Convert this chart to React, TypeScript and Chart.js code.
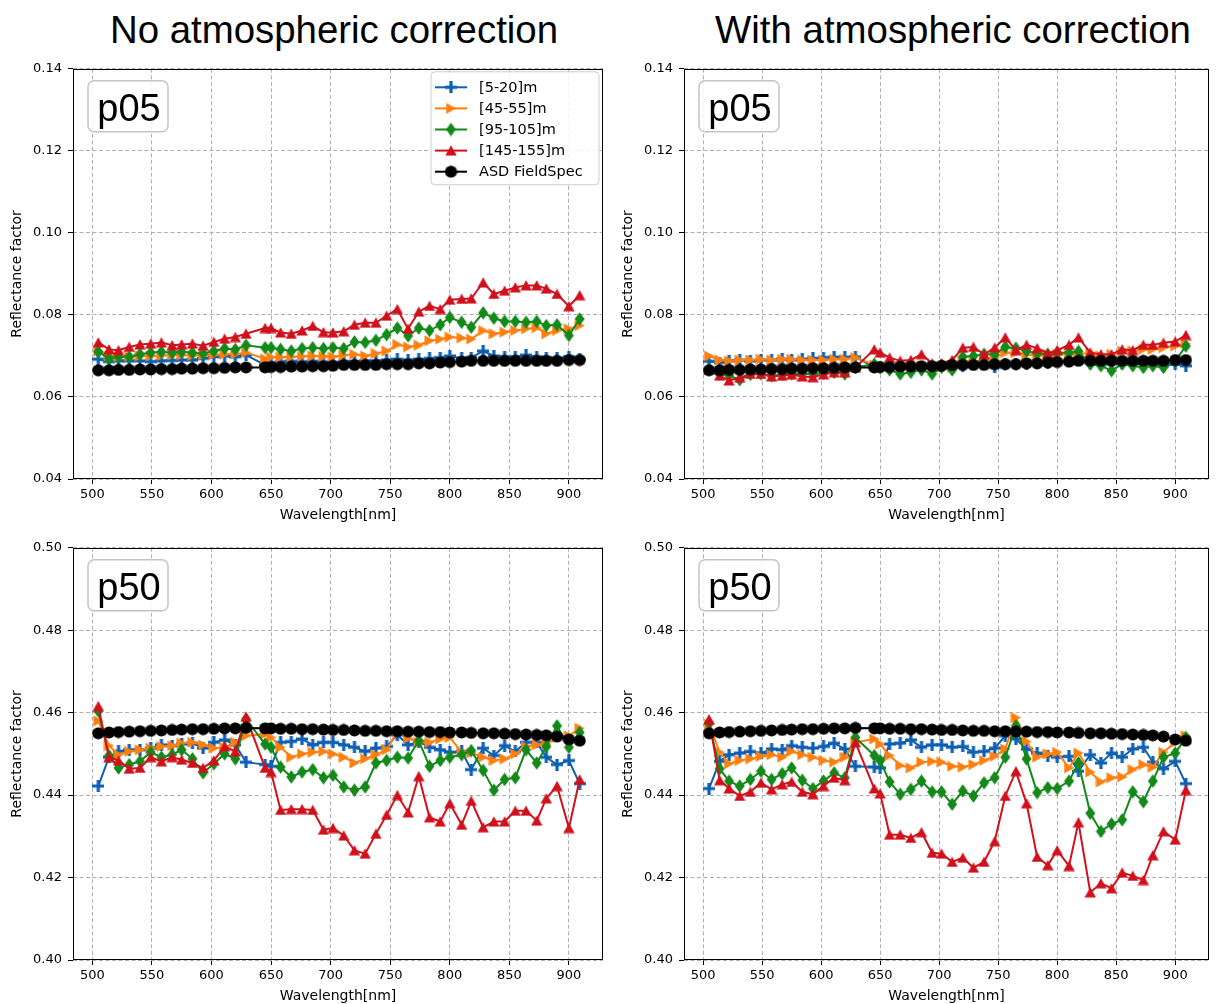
import React, { useEffect, useRef } from "react";
import { Chart, registerables } from "chart.js";

Chart.register(...registerables);

// ---------------- data ----------------
const WAVELENGTHS = [
  505, 514, 522, 531, 540, 549, 558, 567, 575, 584, 593, 602, 611, 620, 629,
  645, 650, 658, 667, 676, 685, 694,
  702, 711, 720, 729, 738, 747, 756, 765, 774, 783, 792, 800, 810, 818, 828, 837, 846, 855, 864, 873, 881, 890, 900, 909,
];

const SERIES_LABELS = ["[5-20]m", "[45-55]m", "[95-105]m", "[145-155]m", "ASD FieldSpec"];
const SERIES_COLORS = ["#0c5fb3", "#ff7f0e", "#13891a", "#d0111c", "#000000"];
const SERIES_MARKERS = ["plus", "triRight", "thinDiamond", "triUp", "circle"];

const X_TICKS = [500, 550, 600, 650, 700, 750, 800, 850, 900];
const P05_Y_TICKS = [0.04, 0.06, 0.08, 0.1, 0.12, 0.14];
const P50_Y_TICKS = [0.4, 0.42, 0.44, 0.46, 0.48, 0.5];

const COLUMN_TITLES = ["No atmospheric correction", "With atmospheric correction"];

// p05 – ASD reference (same in both columns)
const P05_ASD = [
  0.0665, 0.0665, 0.0666, 0.0666, 0.0667, 0.0667, 0.0668, 0.0668, 0.0669, 0.0669, 0.067, 0.067, 0.0671, 0.0672, 0.0672,
  0.0672, 0.0673, 0.0673, 0.0674, 0.0674, 0.0675, 0.0675,
  0.0676, 0.0678, 0.0678, 0.0678, 0.0678, 0.068, 0.068, 0.068, 0.0682, 0.0682, 0.0684, 0.0685, 0.0686, 0.0688, 0.0688, 0.0688, 0.0688, 0.0688, 0.0688, 0.0688, 0.0688, 0.0688, 0.069, 0.069,
];

// p05 – no atmospheric correction
const TL_BLUE = [
  0.0692, 0.0686, 0.0688, 0.0688, 0.0688, 0.0686, 0.0688, 0.0689, 0.069, 0.069, 0.0694, 0.0698, 0.07, 0.0698, 0.0702,
  0.0678, 0.0684, 0.0686, 0.0687, 0.0686, 0.0687, 0.0685,
  0.0684, 0.0686, 0.0686, 0.0688, 0.0688, 0.069, 0.0692, 0.069, 0.0692, 0.0694, 0.0696, 0.07, 0.0694, 0.0696, 0.0712, 0.07, 0.0698, 0.0698, 0.0702, 0.0698, 0.0696, 0.0694, 0.0698, 0.0692,
];
const TL_ORANGE = [
  0.0712, 0.07, 0.0698, 0.0699, 0.07, 0.07, 0.0701, 0.0702, 0.0702, 0.0701, 0.0702, 0.0703, 0.0704, 0.0705, 0.0708,
  0.0693, 0.0697, 0.0697, 0.0698, 0.0699, 0.07, 0.0699,
  0.0698, 0.0702, 0.0704, 0.07, 0.0706, 0.0712, 0.0728, 0.0722, 0.0726, 0.0737, 0.0741, 0.0746, 0.0744, 0.0741, 0.0762, 0.0754, 0.0758, 0.0762, 0.0766, 0.0769, 0.0754, 0.0762, 0.0766, 0.0774,
];
const TL_GREEN = [
  0.071, 0.0694, 0.0698, 0.0698, 0.0704, 0.0708, 0.071, 0.0708, 0.071, 0.0708, 0.0706, 0.0712, 0.0718, 0.0716, 0.0726,
  0.072, 0.072, 0.0716, 0.0712, 0.0718, 0.072, 0.0718,
  0.072, 0.0718, 0.0734, 0.0733, 0.0738, 0.0752, 0.0768, 0.0749, 0.0768, 0.0762, 0.0776, 0.0794, 0.0782, 0.077, 0.0805, 0.0792, 0.0784, 0.0784, 0.0782, 0.0784, 0.0774, 0.0776, 0.075, 0.079,
];
const TL_RED = [
  0.0733, 0.0716, 0.0714, 0.0722, 0.0728, 0.073, 0.0733, 0.0726, 0.0728, 0.073, 0.0725, 0.0734, 0.0742, 0.0746, 0.0754,
  0.0768, 0.0768, 0.0757, 0.0754, 0.0762, 0.0773, 0.0758,
  0.0757, 0.076, 0.0776, 0.0781, 0.0781, 0.0798, 0.0814, 0.0766, 0.0808, 0.0822, 0.0814, 0.0837, 0.0839, 0.084, 0.0879, 0.0851, 0.0859, 0.0867, 0.0872, 0.0872, 0.0864, 0.0851, 0.0821, 0.0848,
];

// p05 – with atmospheric correction
const TR_BLUE = [
  0.0687, 0.0684, 0.0688, 0.069, 0.0688, 0.069, 0.069, 0.0692, 0.069, 0.0692, 0.0694, 0.0696, 0.0697, 0.0697, 0.0698,
  0.0672, 0.0672, 0.0672, 0.0671, 0.0672, 0.0672, 0.0674,
  0.0676, 0.0672, 0.0676, 0.068, 0.0682, 0.0672, 0.068, 0.068, 0.068, 0.0684, 0.0684, 0.0687, 0.0688, 0.069, 0.0684, 0.068, 0.0682, 0.0682, 0.0682, 0.0682, 0.0682, 0.0676, 0.068, 0.0676,
];
const TR_ORANGE = [
  0.07, 0.069, 0.0688, 0.069, 0.069, 0.0692, 0.069, 0.0692, 0.0692, 0.069, 0.069, 0.069, 0.0692, 0.0692, 0.0696,
  0.0678, 0.0676, 0.0674, 0.0674, 0.0676, 0.0676, 0.0676,
  0.0672, 0.0672, 0.0688, 0.0684, 0.0692, 0.0696, 0.0708, 0.0708, 0.0704, 0.07, 0.0704, 0.0704, 0.0704, 0.0704, 0.0708, 0.07, 0.0704, 0.0712, 0.0712, 0.0716, 0.0716, 0.072, 0.0724, 0.073,
];
const TR_GREEN = [
  0.0668, 0.0656, 0.0652, 0.0642, 0.0655, 0.0656, 0.0652, 0.0655, 0.0656, 0.0656, 0.0656, 0.0658, 0.066, 0.0656, 0.0672,
  0.068, 0.0672, 0.0666, 0.0656, 0.066, 0.0666, 0.0656,
  0.0672, 0.0666, 0.0698, 0.07, 0.0704, 0.0704, 0.0722, 0.0719, 0.0712, 0.0706, 0.0704, 0.0708, 0.0708, 0.0711, 0.068, 0.0676, 0.0664, 0.068, 0.0676, 0.0672, 0.0676, 0.0672, 0.0688, 0.0724,
];
const TR_RED = [
  0.0666, 0.0652, 0.064, 0.0647, 0.0656, 0.0656, 0.065, 0.0652, 0.0655, 0.065, 0.0648, 0.0655, 0.066, 0.066, 0.0672,
  0.0716, 0.0708, 0.0696, 0.0688, 0.069, 0.0704, 0.0682,
  0.0682, 0.069, 0.072, 0.0722, 0.0704, 0.072, 0.0745, 0.0714, 0.0727, 0.0719, 0.0706, 0.0714, 0.0727, 0.0745, 0.0708, 0.0704, 0.0704, 0.0716, 0.0714, 0.0727, 0.0727, 0.0732, 0.0735, 0.0751,
];

// p50 – ASD reference (same in both columns)
const P50_ASD = [
  0.455, 0.4552, 0.4553, 0.4554, 0.4555, 0.4556, 0.4557, 0.4558, 0.4559, 0.456, 0.456, 0.4561, 0.4562, 0.4562, 0.4563,
  0.4562, 0.4562, 0.4561, 0.4561, 0.456, 0.456, 0.4559,
  0.4558, 0.4558, 0.4557, 0.4556, 0.4556, 0.4555, 0.4555, 0.4554, 0.4554, 0.4553, 0.4553, 0.4552, 0.4552, 0.4551, 0.455, 0.455, 0.4549, 0.4548, 0.4547, 0.4546, 0.4545, 0.4542, 0.4535, 0.4532,
];

// p50 – no atmospheric correction
const BL_BLUE = [
  0.4422, 0.4492, 0.4506, 0.451, 0.451, 0.4514, 0.4522, 0.452, 0.4524, 0.4526, 0.4514, 0.4528, 0.4534, 0.4522, 0.448,
  0.4474, 0.447, 0.4528, 0.453, 0.4536, 0.4522, 0.4528,
  0.4528, 0.4522, 0.4516, 0.4506, 0.4514, 0.4518, 0.4546, 0.4522, 0.453, 0.4516, 0.451, 0.4504, 0.4506, 0.4462, 0.4514, 0.4496, 0.452, 0.4506, 0.4528, 0.4528, 0.4492, 0.4474, 0.4484, 0.4428,
];
const BL_ORANGE = [
  0.458, 0.452, 0.4498, 0.4506, 0.451, 0.4514, 0.4518, 0.452, 0.4526, 0.4528, 0.4522, 0.4514, 0.4516, 0.4528, 0.4544,
  0.4548, 0.454, 0.4516, 0.4492, 0.45, 0.4504, 0.4506,
  0.45, 0.4492, 0.4478, 0.4488, 0.4498, 0.451, 0.4554, 0.4538, 0.4528, 0.4528, 0.4536, 0.454, 0.4504, 0.4502, 0.4492, 0.4484, 0.4488, 0.45, 0.4518, 0.4522, 0.4524, 0.454, 0.4544, 0.4562,
];
const BL_GREEN = [
  0.4604, 0.4496, 0.4466, 0.4474, 0.4482, 0.4504, 0.4492, 0.4498, 0.451, 0.4488, 0.4454, 0.4476, 0.45, 0.4488, 0.4584,
  0.4524, 0.4516, 0.4468, 0.4444, 0.4456, 0.4462, 0.4442,
  0.4448, 0.442, 0.4412, 0.442, 0.4478, 0.4484, 0.4492, 0.449, 0.4532, 0.447, 0.4484, 0.4492, 0.4498, 0.4508, 0.446, 0.4412, 0.4438, 0.4442, 0.451, 0.4478, 0.4518, 0.4568, 0.4516, 0.4552,
];
const BL_RED = [
  0.4616, 0.4492, 0.4484, 0.4464, 0.4466, 0.4492, 0.4482, 0.4492, 0.4486, 0.4478, 0.4466, 0.4484, 0.4518, 0.4506, 0.459,
  0.4466, 0.4456, 0.4364, 0.4366, 0.4366, 0.4364, 0.4316,
  0.432, 0.4302, 0.4266, 0.4258, 0.4306, 0.4352, 0.44, 0.4358, 0.4446, 0.4346, 0.4336, 0.438, 0.4328, 0.4386, 0.4322, 0.4336, 0.4336, 0.4362, 0.4362, 0.4338, 0.4392, 0.4422, 0.432, 0.4438,
];

// p50 – with atmospheric correction
const BR_BLUE = [
  0.4416, 0.4482, 0.4498, 0.4502, 0.4506, 0.4502, 0.4512, 0.451, 0.452, 0.4516, 0.4514, 0.4518, 0.4526, 0.4512, 0.447,
  0.4468, 0.4466, 0.4524, 0.4526, 0.4534, 0.4516, 0.4522,
  0.4522, 0.4516, 0.4518, 0.4504, 0.4506, 0.4514, 0.4544, 0.4536, 0.4512, 0.4502, 0.4496, 0.4492, 0.4494, 0.4458, 0.4498, 0.4478, 0.4502, 0.4492, 0.4512, 0.4516, 0.448, 0.4464, 0.4482, 0.4428,
];
const BR_ORANGE = [
  0.4572, 0.4504, 0.4476, 0.4484, 0.4488, 0.4494, 0.4498, 0.4492, 0.4506, 0.4498, 0.4492, 0.4484, 0.448, 0.4492, 0.4528,
  0.4536, 0.4524, 0.4496, 0.4472, 0.4466, 0.448, 0.4482,
  0.448, 0.447, 0.4468, 0.4474, 0.4484, 0.4494, 0.4512, 0.4588, 0.453, 0.4492, 0.45, 0.4504, 0.4466, 0.4502, 0.4456, 0.4432, 0.4442, 0.4444, 0.4462, 0.4474, 0.4468, 0.4504, 0.4528, 0.4544,
];
const BR_GREEN = [
  0.4574, 0.4464, 0.4434, 0.4422, 0.4438, 0.4458, 0.4438, 0.4452, 0.4466, 0.4436, 0.4416, 0.4434, 0.4454, 0.4442, 0.454,
  0.4496, 0.4484, 0.4432, 0.4402, 0.4414, 0.4434, 0.4408,
  0.4408, 0.4378, 0.441, 0.4398, 0.443, 0.4442, 0.4492, 0.4568, 0.4488, 0.4406, 0.4418, 0.4416, 0.4434, 0.4478, 0.4356, 0.4312, 0.433, 0.434, 0.4408, 0.4384, 0.4434, 0.4492, 0.4502, 0.454,
];
const BR_RED = [
  0.4584, 0.4436, 0.4416, 0.4398, 0.4408, 0.443, 0.4414, 0.4426, 0.4432, 0.4408, 0.4402, 0.4422, 0.4442, 0.4436, 0.4528,
  0.4416, 0.4404, 0.4304, 0.4304, 0.4296, 0.431, 0.426,
  0.4258, 0.4238, 0.4248, 0.4224, 0.4238, 0.4288, 0.4398, 0.4458, 0.438, 0.425, 0.423, 0.4266, 0.4228, 0.4334, 0.4164, 0.4186, 0.4174, 0.4212, 0.4204, 0.4194, 0.4254, 0.4312, 0.4292, 0.4412,
];

// ---------------- layout ----------------
const X_MIN = 483.8;
const X_MAX = 928.6;

const PANELS = [
  { key: "tl", left: 0, top: 55, width: 610, height: 474, padRight: 4, yMin: 0.04, yMax: 0.14, yTicks: P05_Y_TICKS, tag: "p05", legend: true,
    series: [TL_BLUE, TL_ORANGE, TL_GREEN, TL_RED, P05_ASD] },
  { key: "tr", left: 611, top: 55, width: 605, height: 474, padRight: 1, yMin: 0.04, yMax: 0.14, yTicks: P05_Y_TICKS, tag: "p05", legend: false,
    series: [TR_BLUE, TR_ORANGE, TR_GREEN, TR_RED, P05_ASD] },
  { key: "bl", left: 0, top: 534, width: 610, height: 476, padRight: 4, yMin: 0.4, yMax: 0.5, yTicks: P50_Y_TICKS, tag: "p50", legend: false,
    series: [BL_BLUE, BL_ORANGE, BL_GREEN, BL_RED, P50_ASD] },
  { key: "br", left: 611, top: 534, width: 605, height: 476, padRight: 1, yMin: 0.4, yMax: 0.5, yTicks: P50_Y_TICKS, tag: "p50", legend: false,
    series: [BR_BLUE, BR_ORANGE, BR_GREEN, BR_RED, P50_ASD] },
];

const TICK_FONT = { family: "'DejaVu Sans', sans-serif", size: 13 };
const LABEL_FONT = { family: "'DejaVu Sans', sans-serif", size: 14 };

function makeMarker(kind: string, color: string): HTMLCanvasElement {
  const dims: Record<string, [number, number]> = {
    plus: [12, 12],
    triRight: [11, 12],
    thinDiamond: [11, 14],
    triUp: [12, 11],
    circle: [13, 13],
  };
  const [w, h] = dims[kind];
  const c = document.createElement("canvas");
  c.width = w;
  c.height = h;
  const ctx = c.getContext("2d")!;
  ctx.fillStyle = color;
  ctx.strokeStyle = color;
  ctx.beginPath();
  if (kind === "plus") {
    ctx.lineWidth = 3.2;
    ctx.moveTo(w / 2, 0);
    ctx.lineTo(w / 2, h);
    ctx.moveTo(0, h / 2);
    ctx.lineTo(w, h / 2);
    ctx.stroke();
  } else if (kind === "triRight") {
    ctx.moveTo(0.5, 0.5);
    ctx.lineTo(w - 0.3, h / 2);
    ctx.lineTo(0.5, h - 0.5);
    ctx.closePath();
    ctx.fill();
  } else if (kind === "thinDiamond") {
    ctx.moveTo(w / 2, 0.3);
    ctx.lineTo(w - 0.5, h / 2);
    ctx.lineTo(w / 2, h - 0.3);
    ctx.lineTo(0.5, h / 2);
    ctx.closePath();
    ctx.fill();
  } else if (kind === "triUp") {
    ctx.moveTo(w / 2, 0.3);
    ctx.lineTo(w - 0.3, h - 0.5);
    ctx.lineTo(0.3, h - 0.5);
    ctx.closePath();
    ctx.fill();
  } else {
    ctx.arc(w / 2, h / 2, w / 2 - 0.4, 0, Math.PI * 2);
    ctx.fill();
  }
  return c;
}

function roundRectPath(ctx: CanvasRenderingContext2D, x: number, y: number, w: number, h: number, r: number) {
  ctx.beginPath();
  ctx.moveTo(x + r, y);
  ctx.lineTo(x + w - r, y);
  ctx.arcTo(x + w, y, x + w, y + r, r);
  ctx.lineTo(x + w, y + h - r);
  ctx.arcTo(x + w, y + h, x + w - r, y + h, r);
  ctx.lineTo(x + r, y + h);
  ctx.arcTo(x, y + h, x, y + h - r, r);
  ctx.lineTo(x, y + r);
  ctx.arcTo(x, y, x + r, y, r);
  ctx.closePath();
}

function Panel({ panel }: { panel: any }) {
  const ref = useRef<HTMLCanvasElement>(null);

  useEffect(() => {
    const canvas = ref.current;
    if (!canvas) return;
    const markers = SERIES_COLORS.map((c, k) => makeMarker(SERIES_MARKERS[k], c));

    const framePlugin = {
      id: "frame",
      afterDraw(chart: any) {
        const { ctx, chartArea: a } = chart;
        ctx.save();
        // spines
        ctx.strokeStyle = "#000";
        ctx.lineWidth = 1;
        ctx.setLineDash([]);
        const l = Math.round(a.left) + 0.5;
        const t = Math.round(a.top) + 0.5;
        const r = Math.round(a.right) - 0.5;
        const b = Math.round(a.bottom) - 0.5;
        ctx.strokeRect(l, t, r - l, b - t);

        // tag box
        const bx = a.left + 15;
        const by = a.top + 12;
        roundRectPath(ctx, bx, by, 80, 51, 6);
        ctx.fillStyle = "rgba(255,255,255,0.85)";
        ctx.fill();
        ctx.strokeStyle = "#c4c4c4";
        ctx.lineWidth = 1.5;
        ctx.stroke();
        ctx.fillStyle = "#000";
        ctx.font = "38px 'Liberation Sans', Arial, sans-serif";
        ctx.textAlign = "center";
        ctx.textBaseline = "alphabetic";
        ctx.fillText(panel.tag, bx + 41, a.top + 52);

        // legend
        if (panel.legend) {
          const lx = a.right - 172;
          const ly = a.top + 3;
          roundRectPath(ctx, lx, ly, 168, 113, 4);
          ctx.fillStyle = "rgba(255,255,255,0.85)";
          ctx.fill();
          ctx.strokeStyle = "#cccccc";
          ctx.lineWidth = 1;
          ctx.stroke();
          ctx.font = "14.5px 'DejaVu Sans', sans-serif";
          ctx.textAlign = "left";
          ctx.textBaseline = "middle";
          SERIES_LABELS.forEach((label, k) => {
            const y = a.top + 18.5 + k * 21.1;
            ctx.strokeStyle = SERIES_COLORS[k];
            ctx.lineWidth = 2;
            ctx.beginPath();
            ctx.moveTo(a.right - 168, y);
            ctx.lineTo(a.right - 136, y);
            ctx.stroke();
            const m = markers[k];
            ctx.drawImage(m, a.right - 152 - m.width / 2, y - m.height / 2);
            ctx.fillStyle = "#000";
            ctx.fillText(label, a.right - 124, y + 0.5);
          });
        }
        ctx.restore();
      },
    };

    const chart = new Chart(canvas, {
      type: "line",
      data: {
        datasets: panel.series.map((vals: number[], k: number) => ({
          label: SERIES_LABELS[k],
          data: WAVELENGTHS.map((x, i) => ({ x, y: vals[i] })),
          borderColor: SERIES_COLORS[k],
          backgroundColor: SERIES_COLORS[k],
          borderWidth: 2,
          pointStyle: markers[k],
          pointRadius: 5,
          pointHoverRadius: 5,
          tension: 0,
          fill: false,
          order: 4 - k,
        })),
      },
      options: {
        responsive: false,
        animation: false,
        events: [],
        layout: { padding: { left: 0, top: 10, right: panel.padRight, bottom: 0 } },
        plugins: {
          legend: { display: false },
          tooltip: { enabled: false },
          title: { display: false },
        },
        scales: {
          x: {
            type: "linear",
            min: X_MIN,
            max: X_MAX,
            afterBuildTicks: (s: any) => {
              s.ticks = X_TICKS.map((v) => ({ value: v }));
            },
            afterFit: (s: any) => {
              s.height = 50;
            },
            ticks: {
              autoSkip: false,
              maxRotation: 0,
              padding: 3,
              color: "#000",
              font: TICK_FONT,
              callback: (v: any) => String(v),
            },
            grid: {
              color: "#b0b0b0",
              lineWidth: 1,
              tickColor: "#000",
              tickLength: 5,
              tickWidth: 1,
              tickBorderDash: [],
            },
            border: { display: false, dash: [4, 2.5] },
            title: {
              display: true,
              text: "Wavelength[nm]",
              color: "#000",
              font: LABEL_FONT,
              padding: { top: 5, bottom: 5 },
            },
          },
          y: {
            type: "linear",
            min: panel.yMin,
            max: panel.yMax,
            afterBuildTicks: (s: any) => {
              s.ticks = panel.yTicks.map((v: number) => ({ value: v }));
            },
            afterFit: (s: any) => {
              s.width = 73;
            },
            ticks: {
              padding: 6,
              color: "#000",
              font: TICK_FONT,
              callback: (v: any) => Number(v).toFixed(2),
            },
            grid: {
              color: "#b0b0b0",
              lineWidth: 1,
              tickColor: "#000",
              tickLength: 5,
              tickWidth: 1,
              tickBorderDash: [],
            },
            border: { display: false, dash: [4, 2.5] },
            title: {
              display: true,
              text: "Reflectance factor",
              color: "#000",
              font: LABEL_FONT,
              padding: { top: 8.5, bottom: 8.5 },
            },
          },
        },
      } as any,
      plugins: [framePlugin],
    } as any);

    return () => chart.destroy();
  }, [panel]);

  return (
    <canvas
      ref={ref}
      width={panel.width}
      height={panel.height}
      style={{ position: "absolute", left: panel.left, top: panel.top, width: panel.width, height: panel.height }}
    />
  );
}

export default function App() {
  const titleStyle = (center: number): React.CSSProperties => ({
    position: "absolute",
    left: center - 300,
    top: 9,
    width: 600,
    textAlign: "center",
    fontFamily: "'Liberation Sans', Arial, sans-serif",
    fontSize: 38.4,
    lineHeight: "42px",
    color: "#000",
    whiteSpace: "nowrap",
  });
  return (
    <div style={{ position: "absolute", left: 0, top: 0, width: 1216, height: 1004, background: "#fff", overflow: "hidden" }}>
      <div style={titleStyle(334)}>{COLUMN_TITLES[0]}</div>
      <div style={titleStyle(953)}>{COLUMN_TITLES[1]}</div>
      {PANELS.map((p) => (
        <Panel key={p.key} panel={p} />
      ))}
    </div>
  );
}
